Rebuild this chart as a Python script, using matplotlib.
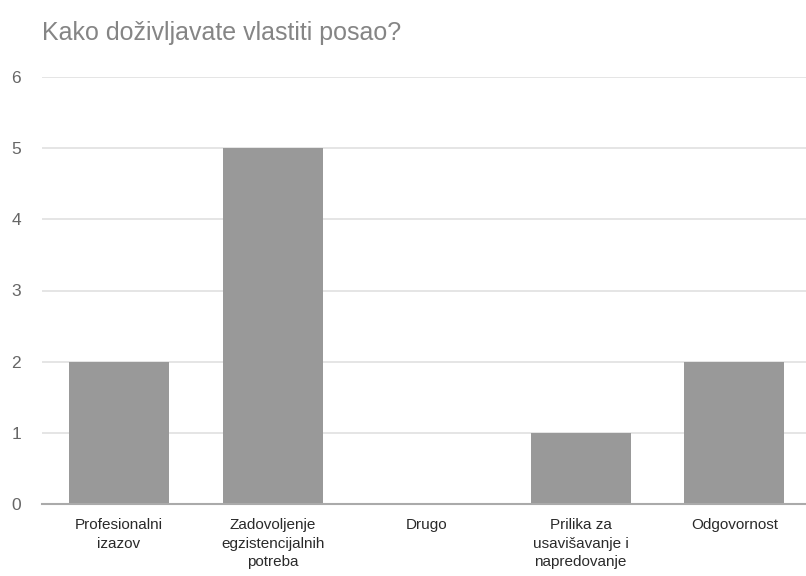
import numpy as np
import matplotlib.pyplot as plt

# podaci
kategorije = ['Profesionalni\nizazov', 'Zadovoljenje\negzistencijalnih\npotreba', 'Drugo',
              'Prilika za\nusavišavanje i\nnapredovanje', 'Odgovornost']
vrijednosti = [2, 5, 0, 1, 2]
naslov = 'Kako doživljavate vlastiti posao?'

plt.rcParams['font.family'] = ['Liberation Sans', 'DejaVu Sans']

fig = plt.figure(figsize=(8.06, 5.76), dpi=100)
ax = fig.add_axes([42/806, 1-504/576, 764/806, (504-77)/576])

x = np.arange(len(kategorije))
ax.bar(x, vrijednosti, width=0.65, color='#999999', zorder=3)

ax.set_xlim(-0.5, 4.465)
ax.set_ylim(0, 6)
ax.set_yticks(range(0, 7))
ax.grid(axis='y', color='#e0e0e0', linewidth=1.2, zorder=0)

for s in ['top', 'right', 'left']:
    ax.spines[s].set_visible(False)
ax.spines['bottom'].set_color('#aaaaaa')
ax.spines['bottom'].set_linewidth(1.5)
ax.spines['bottom'].set_zorder(4)

ax.set_xticks(x)
ax.set_xticklabels(kategorije, fontsize=11, color='#2a2a2a', linespacing=1.42)
ax.tick_params(axis='x', length=0, pad=10)
ax.tick_params(axis='y', length=0, pad=15, labelsize=12.5, labelcolor='#666666')

fig.text(42/806, 1-40/576, naslov, fontsize=18, color='#858585', ha='left', va='baseline')

fig.savefig('out.png', dpi=100)
